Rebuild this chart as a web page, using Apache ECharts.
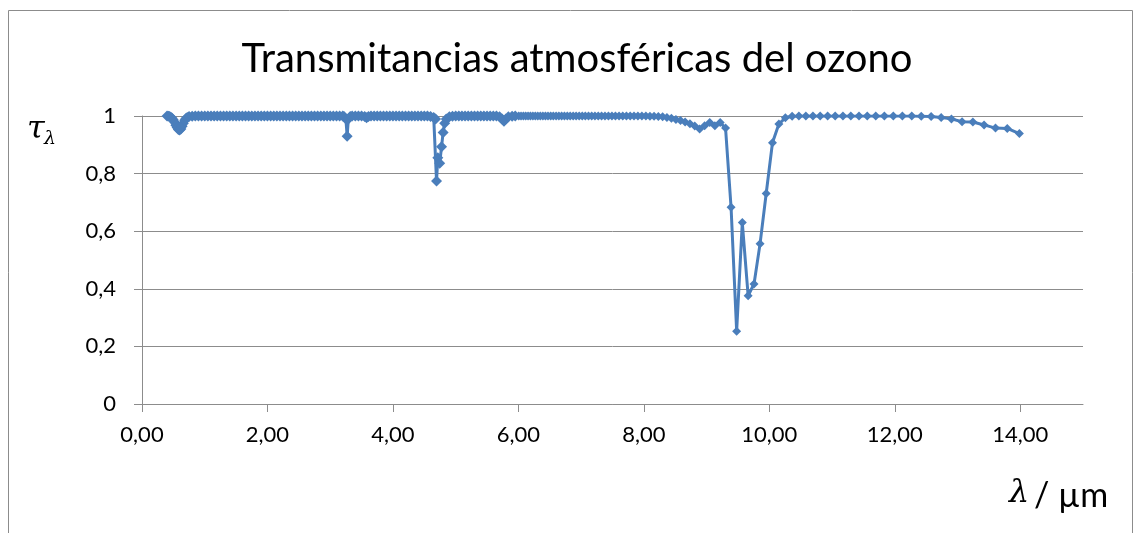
<!DOCTYPE html>
<html>
<head>
<meta charset="utf-8">
<script src="https://cdn.jsdelivr.net/npm/echarts@6/dist/echarts.min.js"></script>
<style>
  html, body { margin: 0; padding: 0; background: #fff; }
  #chart { width: 1137px; height: 533px; }
</style>
</head>
<body>
<div id="chart"></div>
<script>
// Ozone spectral transmittance, pairs of [wavelength in µm, transmittance]
const chappuisBand = [
  [0.40, 1.000], [0.42, 0.999], [0.44, 0.998], [0.46, 0.996], [0.48, 0.992],
  [0.50, 0.986], [0.52, 0.978], [0.54, 0.968], [0.56, 0.960], [0.58, 0.953],
  [0.60, 0.951], [0.62, 0.955], [0.64, 0.964], [0.66, 0.975], [0.68, 0.985],
  [0.70, 0.991], [0.72, 0.995], [0.75, 0.998], [0.80, 0.999]
];
const nearInfrared = [
  [0.85, 1], [0.90, 1], [0.95, 1], [1.00, 1], [1.05, 1], [1.10, 1], [1.15, 1], [1.20, 1],
  [1.25, 1], [1.30, 1], [1.35, 1], [1.40, 1], [1.45, 1], [1.50, 1], [1.55, 1], [1.60, 1],
  [1.65, 1], [1.70, 1], [1.75, 1], [1.80, 1], [1.85, 1], [1.90, 1], [1.95, 1], [2.00, 1],
  [2.05, 1], [2.10, 1], [2.15, 1], [2.20, 1], [2.25, 1], [2.30, 1], [2.35, 1], [2.40, 1],
  [2.45, 1], [2.50, 1], [2.55, 1], [2.60, 1], [2.65, 1], [2.70, 1], [2.75, 1], [2.80, 1],
  [2.85, 1], [2.90, 1], [2.95, 1], [3.00, 1], [3.05, 1], [3.10, 1], [3.15, 1], [3.20, 1]
];
const band3um = [
  [3.22, 0.998], [3.25, 0.990], [3.27, 0.930], [3.29, 0.990], [3.32, 0.998],
  [3.35, 1], [3.40, 1], [3.45, 1], [3.50, 1], [3.55, 0.998], [3.58, 0.994], [3.61, 0.998],
  [3.65, 1], [3.70, 1], [3.75, 1], [3.80, 1], [3.85, 1], [3.90, 1], [3.95, 1], [4.00, 1],
  [4.05, 1], [4.10, 1], [4.15, 1], [4.20, 1], [4.25, 1], [4.30, 1], [4.35, 1], [4.40, 1],
  [4.45, 1], [4.50, 1], [4.55, 1]
];
const band4_7um = [
  [4.60, 0.998], [4.65, 0.995], [4.68, 0.990], [4.695, 0.774], [4.715, 0.855],
  [4.745, 0.836], [4.775, 0.893], [4.800, 0.943], [4.825, 0.975], [4.85, 0.990],
  [4.90, 0.997], [4.95, 0.999], [5.00, 1], [5.05, 1], [5.10, 1], [5.15, 1], [5.20, 1],
  [5.25, 1], [5.30, 1], [5.35, 1], [5.40, 1], [5.45, 1], [5.50, 1], [5.55, 1], [5.60, 1],
  [5.65, 1]
];
const band5_8um = [
  [5.70, 0.997], [5.74, 0.990], [5.77, 0.982], [5.80, 0.990], [5.84, 0.997],
  [5.90, 0.999], [5.95, 1]
];
const midInfrared = [
  [6.006, 1], [6.042, 1], [6.079, 1], [6.116, 1], [6.154, 1], [6.192, 1], [6.231, 1],
  [6.270, 1], [6.309, 1], [6.349, 1], [6.390, 1], [6.431, 1], [6.472, 1], [6.515, 1],
  [6.557, 1], [6.601, 1], [6.645, 1], [6.689, 1], [6.734, 1], [6.780, 1], [6.826, 1],
  [6.873, 1], [6.920, 1], [6.969, 1], [7.018, 1], [7.067, 1], [7.117, 1], [7.168, 1],
  [7.220, 1], [7.273, 1], [7.326, 1], [7.380, 1], [7.435, 1], [7.491, 1], [7.547, 1],
  [7.605, 1], [7.663, 1], [7.722, 1], [7.782, 1], [7.843, 1], [7.905, 1], [7.968, 1],
  [8.032, 1], [8.097, 0.999], [8.163, 0.999], [8.230, 0.998], [8.299, 0.997],
  [8.368, 0.995], [8.439, 0.992], [8.511, 0.988], [8.584, 0.984], [8.658, 0.979],
  [8.734, 0.973], [8.811, 0.965], [8.889, 0.955], [8.969, 0.966], [9.050, 0.977],
  [9.132, 0.966], [9.217, 0.977], [9.302, 0.958]
];
const band9_6um = [
  [9.390, 0.683], [9.479, 0.253], [9.569, 0.630], [9.662, 0.376], [9.756, 0.417],
  [9.852, 0.556], [9.950, 0.731], [10.050, 0.907], [10.152, 0.972], [10.256, 0.994]
];
const farInfrared = [
  [10.363, 0.999], [10.471, 1], [10.582, 1], [10.695, 1], [10.811, 1], [10.929, 1],
  [11.050, 1], [11.173, 1], [11.299, 1], [11.429, 1], [11.561, 1], [11.696, 1],
  [11.834, 1], [11.976, 1], [12.121, 1], [12.270, 1], [12.422, 0.999], [12.579, 0.998],
  [12.739, 0.995], [12.903, 0.990], [13.072, 0.980], [13.245, 0.979], [13.423, 0.969],
  [13.605, 0.958], [13.793, 0.957], [13.986, 0.939]
];

const xTickValues = [0, 2, 4, 6, 8, 10, 12, 14];
const titleText = 'Transmitancias atmosféricas del ozono';

const ozoneData = [].concat(chappuisBand, nearInfrared, band3um, band4_7um,
  band5_8um, midInfrared, band9_6um, farInfrared);

const axisGray = '#8c8c8c';
const labelFont = 'Lato, "Open Sans", sans-serif';
const mathFont = '"DejaVu Serif", "Liberation Serif", serif';

const chart = echarts.init(document.getElementById('chart'), null, { renderer: 'canvas' });

chart.setOption({
  animation: false,
  backgroundColor: '#ffffff',
  grid: { left: 142, top: 116, right: 54, bottom: 129, containLabel: false },
  xAxis: {
    type: 'value',
    min: 0,
    max: 15,
    interval: 2,
    axisLine: { show: true, lineStyle: { color: axisGray, width: 1 } },
    axisTick: { show: true, length: 8, lineStyle: { color: axisGray }, customValues: xTickValues },
    axisLabel: {
      customValues: xTickValues,
      margin: 20,
      color: '#000',
      fontFamily: labelFont,
      fontSize: 22,
      formatter: v => v.toFixed(2).replace('.', ',')
    },
    splitLine: { show: false }
  },
  yAxis: {
    type: 'value',
    min: 0,
    max: 1,
    interval: 0.2,
    axisLine: { show: true, lineStyle: { color: axisGray, width: 1 } },
    axisTick: { show: true, length: 8, lineStyle: { color: axisGray } },
    axisLabel: {
      margin: 26,
      color: '#000',
      fontFamily: labelFont,
      fontSize: 22,
      formatter: v => String(Number(v.toFixed(1))).replace('.', ',')
    },
    splitLine: { show: true, lineStyle: { color: axisGray, width: 1 } }
  },
  series: [{
    type: 'line',
    data: ozoneData,
    symbol: 'diamond',
    // closely spaced short-wave samples overlap into a solid band
    symbolSize: v => (v[0] < 6 ? 11 : 9),
    showAllSymbol: true,
    itemStyle: { color: '#4a7ebb' },
    lineStyle: { color: '#4a7ebb', width: 3 },
    z: 3
  }],
  graphic: [
    {
      type: 'rect',
      shape: { x: 8.5, y: 10.5, width: 1124, height: 540 },
      style: { fill: 'none', stroke: axisGray, lineWidth: 1 },
      silent: true,
      z: -1
    },
    {
      type: 'text',
      x: 577,
      y: 59,
      style: {
        text: titleText,
        fill: '#000',
        font: '40px ' + labelFont,
        textAlign: 'center',
        textVerticalAlign: 'middle'
      }
    },
    {
      type: 'text',
      x: 27,
      y: 130,
      style: {
        text: 'τ',
        fill: '#000',
        font: 'italic 32px ' + mathFont,
        textAlign: 'left',
        textVerticalAlign: 'middle'
      }
    },
    {
      type: 'text',
      x: 44,
      y: 139,
      style: {
        text: 'λ',
        fill: '#000',
        font: 'italic 19px ' + mathFont,
        textAlign: 'left',
        textVerticalAlign: 'middle'
      }
    },
    {
      type: 'text',
      x: 1009,
      y: 494,
      style: {
        text: 'λ',
        fill: '#000',
        font: 'italic 32px ' + mathFont,
        textAlign: 'left',
        textVerticalAlign: 'middle'
      }
    },
    {
      type: 'text',
      x: 1034,
      y: 496,
      style: {
        text: '/ µm',
        fill: '#000',
        font: '34px ' + labelFont,
        textAlign: 'left',
        textVerticalAlign: 'middle'
      }
    }
  ]
});
</script>
</body>
</html>
